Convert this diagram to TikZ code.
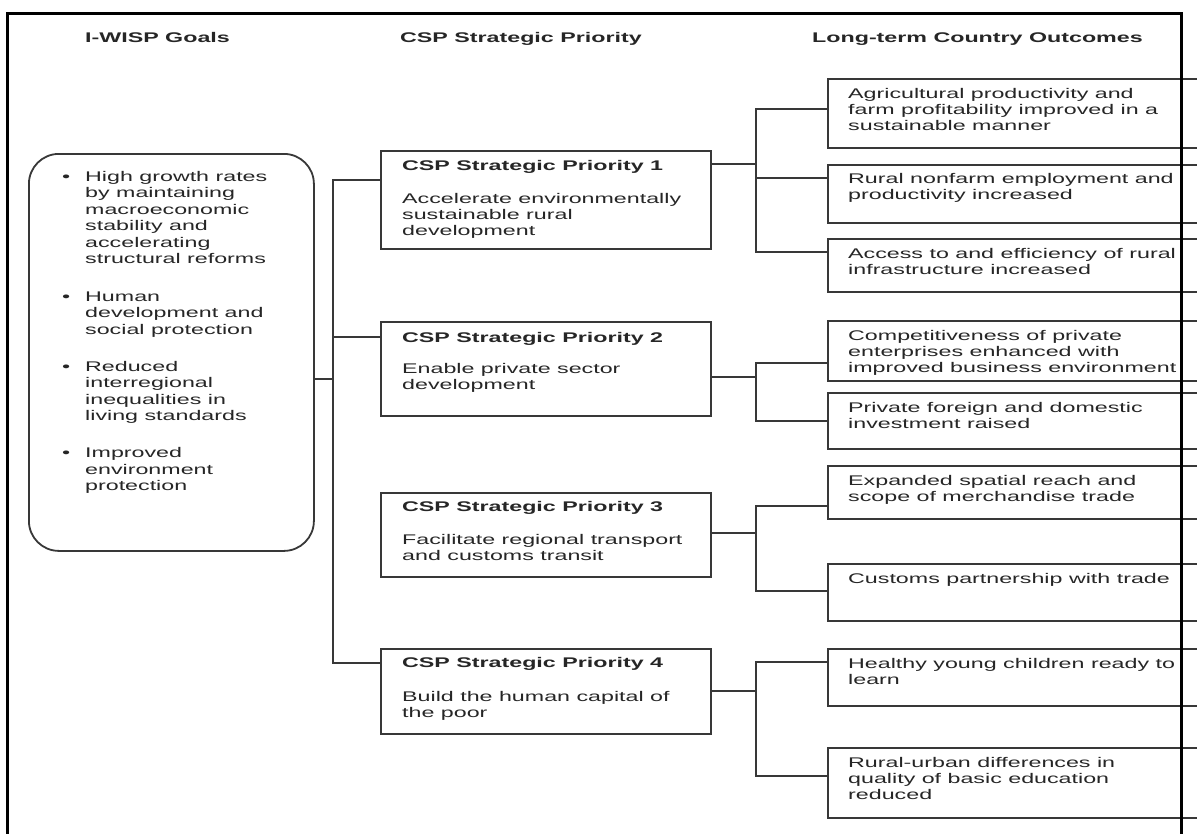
\documentclass[tikz,border=0pt]{standalone}
\usepackage{fontspec}
\setmainfont{Liberation Sans}[FakeStretch=1.66]
\tikzset{
  x=1pt, y=-1pt,
  frame/.style={line width=3pt, draw=black},
  link/.style={line width=1.8pt, draw=black!78},
  boxed/.style={draw=black!78, line width=1.8pt, inner sep=0pt, rectangle},
  txt/.style={inner sep=0pt, anchor=base west, text=black!85,
              font=\fontsize{14}{16.3}\selectfont},
  goaltxt/.style={txt, font=\fontsize{14}{16.5}\selectfont},
  head/.style={txt, font=\fontsize{14}{16.3}\selectfont\bfseries},
}
\newcommand{\lines}[1]{\parbox[t]{400pt}{\raggedright #1}}
\begin{document}
\begin{tikzpicture}
\useasboundingbox (0,0) rectangle (1197,833);
\fill[white] (0,0) rectangle (1197,833);
\clip (0,0) rectangle (1197,833);

% column headings
\node[head] (hgoals) at (85,42) {I-WISP Goals};
\node[head] (hcsp)   at (400,42) {CSP Strategic Priority};
\node[head] (hout)   at (812,42) {Long-term Country Outcomes};

% goals box
\node[boxed, rounded corners=30pt, minimum width=285pt, minimum height=397pt,
      anchor=north west] (goals) at (28,153) {};
\node[goaltxt] (g1b) at (62,181) {•};
\node[goaltxt] (g1)  at (85,181) {\lines{High growth rates\\by maintaining\\macroeconomic\\stability and\\accelerating\\structural reforms}};
\node[goaltxt] (g2b) at (62,301) {•};
\node[goaltxt] (g2)  at (85,301) {\lines{Human\\development and\\social protection}};
\node[goaltxt] (g3b) at (62,371) {•};
\node[goaltxt] (g3)  at (85,371) {\lines{Reduced\\interregional\\inequalities in\\living standards}};
\node[goaltxt] (g4b) at (62,457.5) {•};
\node[goaltxt] (g4)  at (85,457.5) {\lines{Improved\\environment\\protection}};

% strategic priority boxes
\node[boxed, minimum width=330pt, minimum height=98pt, anchor=north west] (p1) at (380,150) {};
\node[boxed, minimum width=330pt, minimum height=94pt, anchor=north west] (p2) at (380,321) {};
\node[boxed, minimum width=330pt, minimum height=84pt, anchor=north west] (p3) at (380,492) {};
\node[boxed, minimum width=330pt, minimum height=85pt, anchor=north west] (p4) at (380,648) {};

\node[head] (p1h) at ([shift={(22,20)}]p1.north west) {CSP Strategic Priority 1};
\node[txt]  (p1d) at ([shift={(22,53)}]p1.north west) {\lines{Accelerate environmentally\\sustainable rural\\development}};
\node[head] (p2h) at ([shift={(22,21)}]p2.north west) {CSP Strategic Priority 2};
\node[txt]  (p2d) at ([shift={(22,52)}]p2.north west) {\lines{Enable private sector\\development}};
\node[head] (p3h) at ([shift={(22,19)}]p3.north west) {CSP Strategic Priority 3};
\node[txt]  (p3d) at ([shift={(22,52)}]p3.north west) {\lines{Facilitate regional transport\\and customs transit}};
\node[head] (p4h) at ([shift={(22,19)}]p4.north west) {CSP Strategic Priority 4};
\node[txt]  (p4d) at ([shift={(22,53)}]p4.north west) {\lines{Build the human capital of\\the poor}};

% outcome boxes (they run on past the frame)
\node[boxed, minimum width=400pt, minimum height=69pt, anchor=north west] (o1) at (827,78) {};
\node[boxed, minimum width=400pt, minimum height=58pt, anchor=north west] (o2) at (827,164) {};
\node[boxed, minimum width=400pt, minimum height=53pt, anchor=north west] (o3) at (827,238) {};
\node[boxed, minimum width=400pt, minimum height=60pt, anchor=north west] (o4) at (827,320) {};
\node[boxed, minimum width=400pt, minimum height=56pt, anchor=north west] (o5) at (827,392) {};
\node[boxed, minimum width=400pt, minimum height=53pt, anchor=north west] (o6) at (827,465) {};
\node[boxed, minimum width=400pt, minimum height=57pt, anchor=north west] (o7) at (827,563) {};
\node[boxed, minimum width=400pt, minimum height=57pt, anchor=north west] (o8) at (827,648) {};
\node[boxed, minimum width=400pt, minimum height=70pt, anchor=north west] (o9) at (827,747) {};

\node[txt] (o1t) at ([shift={(21,20)}]o1.north west) {\lines{Agricultural productivity and\\farm profitability improved in a\\sustainable manner}};
\node[txt] (o2t) at ([shift={(21,19)}]o2.north west) {\lines{Rural nonfarm employment and\\productivity increased}};
\node[txt] (o3t) at ([shift={(21,20)}]o3.north west) {\lines{Access to and efficiency of rural\\infrastructure increased}};
\node[txt] (o4t) at ([shift={(21,20)}]o4.north west) {\lines{Competitiveness of private\\enterprises enhanced with\\improved business environment}};
\node[txt] (o5t) at ([shift={(21,20)}]o5.north west) {\lines{Private foreign and domestic\\investment raised}};
\node[txt] (o6t) at ([shift={(21,20)}]o6.north west) {\lines{Expanded spatial reach and\\scope of merchandise trade}};
\node[txt] (o7t) at ([shift={(21,20)}]o7.north west) {\lines{Customs partnership with trade}};
\node[txt] (o8t) at ([shift={(21,20)}]o8.north west) {\lines{Healthy young children ready to\\learn}};
\node[txt] (o9t) at ([shift={(21,20)}]o9.north west) {\lines{Rural-urban differences in\\quality of basic education\\reduced}};

% goals to priorities
\coordinate (gj) at (333,379);
\coordinate (bt) at (333,180);
\coordinate (bm) at (333,337);
\coordinate (bb) at (333,663);
\draw[link] (goals.east |- gj) -- (gj);
\draw[link] (p1.west |- bt) -- (bt) -- (bb) -- (p4.west |- bb);
\draw[link] (bm) -- (p2.west |- bm);

% priority 1 to outcomes
\coordinate (a0) at (756,164);
\coordinate (a1) at (756,109);
\coordinate (a2) at (756,178);
\coordinate (a3) at (756,252);
\draw[link] (p1.east |- a0) -- (a0);
\draw[link] (o1.west |- a1) -- (a1) -- (a3) -- (o3.west |- a3);
\draw[link] (a2) -- (o2.west |- a2);

% priority 2 to outcomes
\coordinate (b0) at (756,377);
\coordinate (b1) at (756,363);
\coordinate (b2) at (756,421);
\draw[link] (p2.east |- b0) -- (b0);
\draw[link] (o4.west |- b1) -- (b1) -- (b2) -- (o5.west |- b2);

% priority 3 to outcomes
\coordinate (c0) at (756,533);
\coordinate (c1) at (756,506);
\coordinate (c2) at (756,591);
\draw[link] (p3.east |- c0) -- (c0);
\draw[link] (o6.west |- c1) -- (c1) -- (c2) -- (o7.west |- c2);

% priority 4 to outcomes
\coordinate (d0) at (756,691);
\coordinate (d1) at (756,662);
\coordinate (d2) at (756,776);
\draw[link] (p4.east |- d0) -- (d0);
\draw[link] (o8.west |- d1) -- (d1) -- (d2) -- (o9.west |- d2);

% outer frame
\draw[frame] (7,840) -- (7,13.5) -- (1181.5,13.5) -- (1181.5,840);
\end{tikzpicture}
\end{document}
